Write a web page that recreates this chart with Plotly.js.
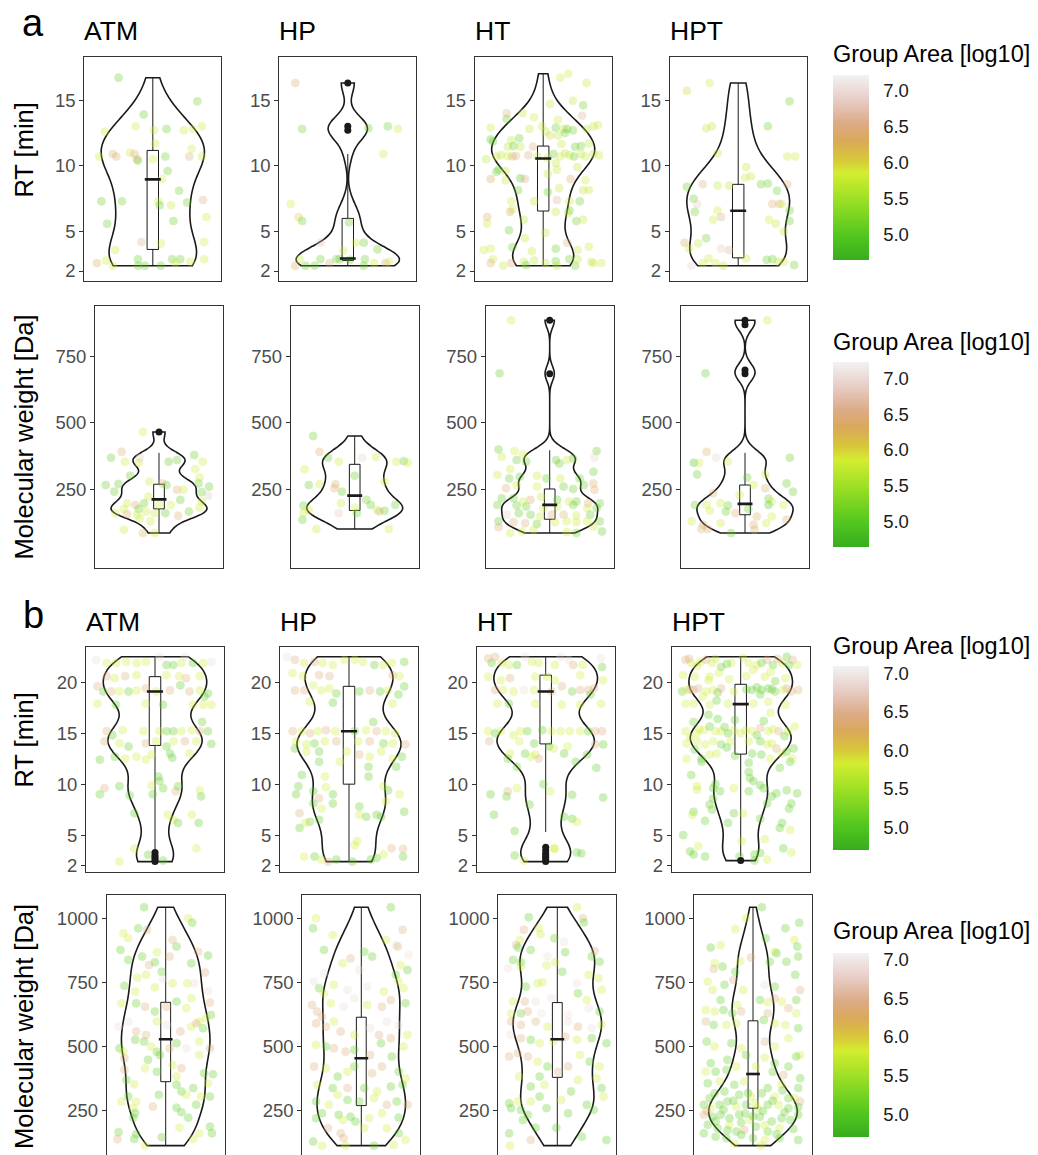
<!DOCTYPE html>
<html><head><meta charset="utf-8">
<script src="https://cdn.plot.ly/plotly-3.0.1.min.js"></script>
<style>html,body{margin:0;padding:0;background:#fff;}#chart{width:1038px;height:1155px;}</style>
</head><body><div id="chart"></div>
<script>
// ---------------- DATA ----------------
const groups = ['ATM','HP','HT','HPT'];
const rtTicks1 = [2,5,10,15];
const rtTicks2 = [2,5,10,15,20];
const mwTicks1 = [250,500,750];
const mwTicks2 = [250,500,750,1000];
const cbTickVals = [5,5.5,6,6.5,7];
const cbTickText = ['5.0','5.5','6.0','6.5','7.0'];
const cbTitle = 'Group Area [log10]';

// panel a - RT [min]
const aRT_ATM_x = [-0.30,0.39,-0.08,-0.42,-0.15,0.01,0.12,0.27,0.35,0.43,0.02,0.34,-0.47,-0.35,-0.32,-0.20,-0.16,-0.14,-0.13,0.00,0.11,0.32,0.43,0.08,0.13,0.23,-0.45,-0.27,0.05,0.06,0.16,0.30,0.44,0.47,-0.40,0.18,-0.10,0.07,0.45,-0.33,-0.49,-0.41,-0.35,-0.13,-0.13,-0.07,0.07,0.17,0.24,0.20,0.33,0.45];
const aRT_ATM_y = [16.7,14.9,13.9,12.6,13.0,12.7,12.8,12.7,12.8,13.0,11.7,11.3,10.7,10.9,10.7,11.0,10.9,10.5,10.4,10.5,10.7,10.7,10.7,9.0,9.6,8.1,7.3,7.3,7.3,7.0,7.0,7.2,7.4,6.1,5.6,5.8,4.2,4.1,4.2,3.6,2.6,2.8,2.4,2.9,2.4,2.4,2.4,2.9,2.9,2.6,2.7,2.9];
const aRT_ATM_c = [5.1,5.1,5.1,5.8,5.8,5.8,5.1,5.8,5.8,5.8,5.8,5.8,5.8,6.4,6.4,5.8,6.4,6.4,5.1,5.8,5.1,6.5,5.8,5.8,5.1,5.1,5.1,5.1,5.8,5.1,5.8,5.1,6.5,5.8,5.1,5.1,6.6,5.8,5.8,5.8,6.3,5.8,5.8,5.1,5.1,5.1,5.1,5.1,5.1,5.8,5.8,5.8];
const aRT_ATM_out = [];
const aRT_HP_x = [-0.46,-0.40,0.18,0.35,0.44,0.31,-0.50,-0.43,-0.40,0.01,-0.24,-0.04,0.07,0.14,0.26,-0.42,-0.24,-0.16,-0.10,-0.07,0.02,0.15,-0.46,-0.37,-0.29,0.14,0.23,0.33,0.36];
const aRT_HP_y = [16.3,12.8,12.85,13.0,12.8,10.9,7.1,6.1,5.8,5.7,4.15,3.55,4.15,4.15,3.64,2.9,2.9,2.6,2.9,2.9,2.85,2.9,2.4,2.4,2.4,2.4,2.6,2.6,2.7];
const aRT_HP_c = [6.4,5.1,5.1,5.1,5.8,5.8,5.8,6.0,5.1,5.1,6.7,5.8,5.8,5.1,5.1,5.8,5.1,6.4,5.1,5.1,5.1,5.1,6.3,5.1,5.1,5.1,5.8,6.4,5.8];
const aRT_HP_out = [16.3,13.0,12.7];
const aRT_HT_x = [0.15,0.22,0.38,0.06,0.26,0.35,-0.32,-0.18,-0.08,0.34,-0.32,0.13,-0.46,-0.12,-0.01,0.02,0.11,0.18,0.21,0.26,0.38,0.48,0.44,0.06,0.13,0.19,-0.46,-0.44,-0.28,-0.21,-0.31,-0.26,-0.20,-0.09,0.16,0.28,0.40,0.33,-0.50,-0.41,-0.37,-0.31,-0.27,-0.24,-0.13,-0.05,0.04,0.09,0.11,0.15,0.19,0.23,0.27,0.33,0.37,0.49,0.44,-0.39,-0.33,-0.41,-0.20,-0.16,-0.46,-0.33,0.04,0.12,0.24,0.30,0.37,0.35,0.40,-0.22,0.04,0.14,-0.08,0.12,-0.28,-0.27,0.23,0.32,-0.29,0.11,0.23,0.22,-0.49,-0.49,-0.17,0.29,0.35,-0.30,0.02,-0.16,0.21,-0.52,-0.46,-0.27,-0.10,0.11,0.30,0.40,-0.44,-0.46,-0.35,-0.28,-0.17,-0.15,-0.08,0.02,0.11,0.12,0.23,0.28,0.30,0.42,0.51,0.44];
const aRT_HT_y = [16.7,17.0,16.3,14.7,14.95,14.6,14.0,14.0,13.7,13.8,13.55,13.5,12.9,12.8,13.0,12.6,12.9,12.8,12.8,12.7,12.8,13.1,13.0,12.3,12.3,12.5,12.0,11.85,11.96,12.1,11.45,11.5,11.45,11.45,11.65,11.45,11.7,11.5,10.5,10.7,10.8,10.75,10.7,10.75,10.8,10.7,10.6,10.9,10.2,10.7,10.95,10.8,10.7,10.9,10.7,10.8,10.9,9.7,9.6,9.55,9.05,9.0,9.0,8.9,9.4,9.7,9.0,9.9,8.9,8.15,8.15,8.15,8.0,8.3,7.3,7.4,7.3,6.7,7.3,7.3,6.5,6.5,6.6,6.4,6.1,5.6,5.9,5.8,5.9,5.1,4.9,4.5,4.15,3.6,3.7,3.8,3.5,3.7,3.6,3.85,2.9,2.6,2.4,2.6,2.7,2.45,2.8,2.6,2.75,2.4,2.9,2.4,2.9,2.7,2.6,2.6];
const aRT_HT_c = [5.8,5.8,5.7,5.7,5.7,5.1,6.5,5.7,5.8,6.6,5.1,5.8,5.8,5.7,5.8,5.7,5.1,5.7,5.1,5.1,5.7,5.8,5.7,6.0,5.7,5.1,5.0,5.0,5.7,5.1,5.7,5.1,5.7,6.5,5.7,5.1,5.7,5.1,5.7,5.8,5.7,5.8,6.4,6.4,6.5,5.7,5.7,5.1,5.7,5.8,5.7,5.7,5.1,5.7,5.8,5.8,5.7,5.1,5.7,5.1,4.9,6.4,6.3,5.7,5.7,5.7,6.4,5.7,5.8,5.7,5.7,5.1,5.1,5.7,5.7,6.6,5.8,5.8,5.8,5.1,6.3,5.7,5.1,5.7,6.4,5.8,5.7,5.1,5.7,5.1,5.7,5.7,6.5,5.8,5.8,5.1,5.7,5.1,5.7,5.8,5.8,6.4,5.7,6.4,5.7,5.1,5.7,5.7,5.1,5.7,5.1,5.1,5.7,5.8,5.8,5.7];
const aRT_HT_out = [];
const aRT_HPT_x = [-0.45,-0.25,0.45,-0.28,-0.23,0.26,-0.18,0.43,0.50,0.07,0.11,0.06,-0.45,-0.31,-0.18,-0.08,0.20,0.26,0.43,0.34,-0.39,-0.36,-0.38,0.30,0.36,0.38,0.45,-0.18,-0.15,-0.22,0.27,0.45,0.33,0.40,-0.28,-0.47,-0.35,-0.43,-0.15,-0.08,-0.26,-0.31,-0.20,0.07,0.25,0.30,0.35,0.40,0.49,-0.41,-0.13];
const aRT_HPT_y = [15.7,16.3,14.9,12.85,13.0,13.0,10.95,10.7,10.7,9.9,9.2,9.1,8.4,8.6,8.5,8.5,8.6,8.65,8.6,8.1,7.5,7.1,6.5,7.1,7.1,7.1,6.6,6.6,6.1,5.9,5.9,5.8,5.6,5.0,4.5,4.15,4.1,3.7,3.7,3.6,2.95,2.6,2.6,2.95,2.85,2.9,2.7,2.7,2.45,2.4,2.4];
const aRT_HPT_c = [6.0,5.8,5.1,5.7,5.7,5.1,5.7,5.8,5.8,5.7,5.7,5.8,5.1,6.5,5.7,5.7,5.1,5.1,6.5,5.1,5.1,6.8,5.1,6.4,6.4,5.8,5.1,5.8,6.5,5.8,5.8,5.1,5.7,5.7,5.1,6.3,5.7,5.8,6.8,6.6,5.8,5.8,5.8,5.8,5.1,5.1,5.7,5.8,5.1,6.9,5.7];
const aRT_HPT_out = [];
const aRT_q1  = [3.64,2.8,6.56,3.0];
const aRT_med = [8.97,2.95,10.55,6.58];
const aRT_q3  = [11.17,6.0,11.5,8.59];
const aRT_lo  = [2.4,2.4,2.4,2.4];
const aRT_hi  = [16.7,10.9,17.0,16.3];

// panel a - Molecular weight [Da]
const aMW_ATM_x = [-0.15,-0.35,-0.45,-0.32,-0.19,-0.18,0.09,0.17,0.33,0.41,-0.27,0.34,0.38,-0.50,-0.38,-0.42,-0.09,0.03,0.17,0.23,0.37,0.47,0.40,0.46,-0.10,0.20,0.07,-0.30,-0.22,-0.19,-0.14,-0.33,-0.41,-0.30,-0.21,-0.12,-0.04,0.00,0.06,0.11,0.18,0.28,0.38,0.40,-0.18,-0.08,-0.33,-0.15,-0.04];
const aMW_ATM_y = [466,391,369,354,350,369,354,360,379,354,301,326,294,266,270,241,279,272,248,248,272,260,239,226,222,210,266,197,191,176,197,176,160,156,154,166,160,191,160,191,150,166,181,204,141,129,97,85,85];
const aMW_ATM_c = [5.8,6.4,5.1,5.8,5.8,6.8,5.1,5.1,5.1,5.8,5.1,5.8,5.8,5.1,5.1,5.1,5.8,6.4,6.4,5.8,5.1,5.1,5.1,6.8,5.8,5.1,5.1,5.8,6.4,5.1,5.1,5.8,5.8,6.4,5.8,5.8,5.8,5.8,5.1,5.8,6.4,5.1,5.8,5.8,5.8,5.8,5.8,6.2,5.8];
const aMW_ATM_out = [466];
const aMW_HP_x = [-0.39,-0.33,-0.47,-0.25,-0.15,0.07,0.20,0.39,0.46,0.50,-0.43,-0.33,-0.19,-0.18,-0.12,0.00,0.28,-0.13,0.11,0.15,0.21,0.23,0.28,0.38,-0.48,-0.48,-0.43,-0.15,0.00,0.02,-0.49,-0.36,0.32];
const aMW_HP_y = [451,391,325,369,354,369,372,354,356,350,266,269,254,269,241,301,279,197,210,191,172,166,169,191,189,162,172,160,181,160,135,100,100];
const aMW_HP_c = [5.1,6.4,5.8,5.1,5.8,6.9,5.8,5.8,5.1,5.8,5.1,5.8,6.4,6.4,5.1,5.1,5.8,5.8,5.1,5.1,5.8,6.4,5.1,5.1,5.1,5.8,5.8,6.8,5.8,5.1,5.1,5.8,5.8];
const aMW_HP_out = [];
const aMW_HT_x = [-0.36,-0.47,-0.48,-0.45,-0.33,-0.25,-0.31,-0.22,0.44,0.42,0.22,0.06,0.16,0.09,-0.49,-0.37,-0.38,-0.28,-0.12,-0.03,0.10,0.28,0.41,0.42,0.41,-0.41,-0.31,-0.12,0.13,0.22,0.32,-0.45,-0.34,-0.25,-0.18,-0.08,0.07,0.18,0.25,0.36,0.47,-0.49,-0.31,-0.22,-0.06,0.07,0.22,0.35,0.44,-0.40,-0.29,-0.18,-0.09,0.02,0.13,0.25,0.38,-0.48,-0.34,-0.23,-0.12,0.05,0.16,0.25,0.35,0.47,-0.48,-0.37,-0.26,-0.15,0.16,0.25,0.41,0.49];
const aMW_HT_y = [887,687,400,372,394,381,360,354,394,369,366,360,360,347,304,326,291,297,301,291,291,291,272,248,316,254,266,260,260,251,266,216,216,204,210,222,210,204,204,197,197,191,189,185,179,185,191,179,179,154,160,154,147,154,154,151,154,129,126,122,119,126,129,126,129,129,107,85,91,97,89,85,110,91];
const aMW_HT_c = [5.8,5.1,5.1,5.8,5.8,5.8,5.1,5.1,5.1,6.9,5.1,5.1,5.8,5.1,5.8,5.8,5.1,5.1,5.8,5.1,5.8,5.1,6.4,6.4,5.1,6.4,5.8,5.8,5.1,5.1,5.1,5.1,5.1,5.8,6.4,5.8,5.1,5.8,5.1,6.4,5.1,5.1,5.1,5.1,5.8,5.8,5.1,5.8,5.1,6.9,5.1,5.1,5.8,6.4,6.4,5.8,5.1,5.1,6.4,6.4,5.1,5.8,5.8,5.8,5.8,5.1,6.4,5.8,5.8,5.8,5.8,5.1,5.8,5.1];
const aMW_HT_out = [887,685];
const aMW_HPT_x = [0.21,-0.37,-0.36,-0.27,-0.48,-0.43,-0.45,-0.16,0.42,0.19,0.02,0.08,0.19,0.39,0.45,-0.30,-0.05,0.22,0.25,-0.47,-0.36,-0.23,-0.16,0.22,0.36,-0.33,-0.18,-0.09,0.03,0.11,0.25,-0.50,-0.39,-0.23,0.08,0.20,0.39,-0.41,-0.35,-0.13,0.09];
const aMW_HPT_y = [887,687,391,369,350,350,306,354,369,306,294,266,254,272,241,235,229,214,204,191,191,197,189,191,191,169,166,160,176,147,147,129,116,122,116,122,135,100,100,85,97];
const aMW_HPT_c = [5.8,5.1,6.4,6.9,4.9,5.8,5.1,5.8,5.1,5.8,5.1,5.8,6.4,5.1,5.1,6.4,5.8,5.1,5.8,5.1,5.8,5.8,5.1,4.9,5.8,5.8,5.1,6.4,5.1,6.4,5.8,5.8,6.4,5.8,6.4,5.8,6.4,6.4,6.4,5.1,6.4];
const aMW_HPT_out = [887,870,700,685];
const aMW_q1  = [176,170,137,154];
const aMW_med = [212,226,191,195];
const aMW_q3  = [269,344,251,266];
const aMW_lo  = [85,100,85,85];
const aMW_hi  = [387,451,397,387];

// panel b - RT [min]
const bRT_ATM_x = [-0.51,-0.42,-0.34,-0.25,-0.16,-0.08,0.04,0.10,0.16,0.23,0.26,0.33,0.42,0.49,-0.42,-0.35,-0.26,-0.16,0.10,0.21,0.27,0.39,-0.50,-0.45,-0.38,-0.31,-0.23,-0.16,-0.08,0.01,0.13,0.22,0.30,0.39,0.46,-0.50,-0.34,-0.08,0.07,0.33,0.42,0.49,0.43,-0.42,-0.37,-0.28,-0.10,0.04,0.10,0.16,0.23,0.32,0.39,0.46,0.41,-0.44,-0.31,-0.23,-0.08,0.01,0.10,0.16,0.26,0.36,0.49,-0.48,-0.35,-0.26,-0.16,-0.08,-0.03,0.13,0.15,0.30,0.03,0.04,-0.03,0.07,-0.31,-0.44,-0.48,-0.22,-0.02,0.18,0.20,0.39,0.40,-0.18,0.11,0.16,0.20,0.32,0.38,-0.18,0.36,-0.06,-0.31,0.07];
const bRT_ATM_y = [22.2,21.9,21.9,22.0,21.9,22.0,22.5,21.7,21.7,21.9,22.5,21.9,21.9,22.0,20.6,20.4,20.6,20.7,20.7,20.6,20.4,20.6,19.6,19.1,19.1,19.1,19.1,19.2,19.4,19.1,19.2,19.7,19.1,19.2,18.9,17.9,17.8,17.9,17.8,17.8,17.8,17.8,18.6,15.2,14.8,15.3,15.2,15.2,15.2,15.2,15.2,15.3,15.2,15.2,16.1,14.2,14.0,13.7,14.0,14.2,13.7,14.2,14.2,14.2,13.95,12.4,12.7,12.5,12.7,12.4,12.9,13.0,12.6,13.0,10.75,10.3,9.9,9.6,9.8,9.6,9.0,8.9,9.0,9.3,9.8,9.4,8.8,7.15,7.0,6.5,6.2,7.0,6.2,3.66,3.7,3.07,2.4,2.5];
const bRT_ATM_c = [6.9,5.8,5.8,5.8,5.8,5.8,6.9,5.1,5.1,5.8,6.9,5.1,5.8,6.9,6.4,5.8,6.4,5.8,5.8,5.8,6.4,5.8,6.4,5.1,6.4,5.8,5.1,5.8,6.4,5.8,6.4,5.1,6.4,5.8,5.1,5.8,5.1,5.8,5.1,5.8,5.8,5.8,5.1,6.4,5.1,5.8,5.8,5.8,5.1,5.1,5.8,5.8,6.4,5.1,5.1,6.4,5.8,5.1,6.4,5.8,5.1,5.8,6.4,5.8,5.1,5.1,5.1,5.8,5.8,5.8,5.8,5.1,5.1,5.8,5.1,5.1,5.8,5.1,5.1,6.4,5.1,5.1,5.1,6.4,5.1,5.8,5.1,5.1,5.8,5.8,5.1,5.8,5.1,5.8,5.8,5.1,5.8,5.1];
const bRT_ATM_out = [3.3,3.0,2.8,2.6,2.4];
const bRT_HP_x = [-0.54,-0.47,-0.39,-0.30,-0.23,-0.14,-0.04,0.05,0.12,0.22,0.30,0.37,0.48,-0.49,-0.40,-0.26,-0.17,0.38,0.44,-0.47,-0.39,-0.31,-0.24,-0.17,-0.11,0.09,0.18,0.27,0.34,0.43,0.48,-0.34,-0.14,0.38,-0.49,-0.41,-0.34,-0.27,-0.20,-0.12,0.05,0.15,0.24,0.32,0.40,0.21,-0.46,-0.37,-0.30,-0.21,-0.11,0.08,0.18,0.30,0.38,0.49,-0.47,-0.37,-0.26,-0.02,0.09,0.18,0.28,0.38,0.46,0.41,0.17,-0.26,-0.08,-0.41,-0.21,-0.44,0.17,-0.20,0.30,-0.46,-0.31,-0.26,-0.14,0.34,0.44,-0.31,-0.24,-0.14,0.09,0.32,0.48,-0.43,0.09,0.15,0.24,0.28,-0.26,-0.34,-0.43,-0.38,0.07,0.05,-0.39,-0.30,-0.24,-0.18,-0.11,0.03,0.19,0.24,0.30,0.37,0.47,0.47];
const bRT_HP_y = [22.5,22.2,21.9,22.0,21.9,21.7,22.2,22.2,22.0,21.7,21.7,21.9,22.0,20.9,20.6,20.7,20.6,20.7,20.6,19.2,19.2,19.7,19.2,19.4,18.9,19.1,19.2,19.1,19.2,18.8,19.6,18.1,18.0,17.9,15.2,15.2,15.0,15.2,15.3,15.2,15.2,15.3,15.2,15.2,15.0,16.1,14.2,13.9,14.0,14.2,14.2,14.2,14.2,14.0,14.0,13.9,13.5,13.2,13.2,13.2,12.9,12.7,13.2,12.5,12.7,11.7,11.7,12.2,12.2,10.9,10.75,9.8,10.75,9.7,9.8,9.0,9.3,8.6,9.0,9.4,9.0,8.1,7.6,8.1,7.8,8.3,7.3,7.15,7.0,6.8,7.0,6.8,6.5,6.3,5.7,6.2,4.4,4.0,2.9,2.9,2.6,2.4,2.6,2.4,2.6,2.75,3.1,3.7,3.65,2.9];
const bRT_HP_c = [6.9,6.4,5.8,6.4,5.8,5.8,5.8,5.8,5.8,5.1,5.8,5.8,5.1,5.8,5.8,6.4,6.4,6.4,5.8,6.4,6.4,5.8,5.8,5.8,5.1,5.1,6.4,5.1,5.8,5.1,5.1,5.8,5.1,5.8,6.4,5.8,6.4,5.8,6.4,5.8,5.1,5.8,6.4,5.8,5.8,5.1,5.8,5.8,5.1,5.8,6.4,5.8,6.4,5.1,5.8,6.4,5.1,5.8,5.1,5.8,6.4,5.8,5.8,5.8,5.1,5.1,5.1,5.1,5.8,5.1,5.8,5.1,5.1,5.8,5.8,5.1,5.1,6.4,5.1,5.1,5.8,5.1,5.8,5.1,5.1,5.8,5.1,6.4,5.8,5.1,5.1,5.1,5.1,5.1,5.1,5.8,5.8,5.8,5.8,5.1,5.8,6.4,5.1,5.1,5.1,5.1,5.8,6.4,6.4,5.1];
const bRT_HP_out = [];
const bRT_HT_x = [-0.50,-0.44,-0.47,-0.38,-0.32,-0.25,-0.18,-0.12,-0.06,0.08,0.13,0.20,0.24,0.32,0.48,0.49,-0.50,-0.39,-0.31,-0.09,0.01,0.08,0.30,0.50,-0.44,-0.37,-0.28,-0.19,-0.10,0.05,0.14,0.23,0.30,0.37,0.42,0.39,-0.42,-0.32,-0.09,0.14,0.30,0.48,-0.50,-0.44,-0.39,-0.28,-0.22,-0.16,-0.03,0.05,0.13,0.21,0.30,0.37,0.43,0.49,-0.49,-0.23,-0.10,0.03,0.07,0.19,0.43,0.50,-0.31,-0.18,-0.13,-0.09,-0.06,0.16,0.26,0.36,-0.33,-0.25,0.44,-0.02,0.04,-0.33,-0.25,-0.48,-0.34,0.23,0.50,-0.14,-0.45,0.16,0.23,0.27,-0.27,0.07,0.08,-0.27,-0.19,0.27,0.31];
const bRT_HT_y = [22.35,22.5,21.9,21.9,21.7,21.7,22.5,22.0,21.9,21.7,22.5,22.2,21.7,21.7,22.35,21.5,20.55,20.2,20.4,20.55,20.55,20.2,20.7,20.2,19.25,19.25,19.1,19.25,19.25,19.1,19.6,19.1,19.25,19.25,19.4,18.8,17.9,17.9,17.9,17.8,17.8,17.9,15.2,15.0,15.2,14.8,15.2,15.2,15.3,15.2,15.2,15.2,15.2,15.2,15.2,15.2,14.2,14.2,14.0,13.7,13.5,13.7,13.9,13.9,13.0,13.0,12.7,12.9,12.5,13.0,12.2,12.9,12.5,11.7,11.6,10.0,9.3,9.3,9.6,9.0,8.8,8.95,8.7,8.0,7.0,6.8,6.6,6.3,5.4,3.7,3.65,3.0,2.5,3.3,3.2];
const bRT_HT_c = [6.4,6.4,5.1,5.8,5.8,5.1,6.9,5.8,5.8,5.8,6.9,6.9,6.4,5.8,6.9,5.1,5.8,5.8,6.4,5.8,5.8,5.8,5.8,5.8,6.4,5.8,5.8,6.9,5.8,6.4,6.4,5.1,6.4,6.4,6.4,5.1,5.8,5.1,5.8,5.8,5.8,5.8,5.8,5.1,5.8,5.8,5.8,5.1,5.1,5.8,5.8,5.8,5.8,5.1,6.4,6.4,6.4,5.8,5.1,5.1,5.8,5.8,6.4,5.1,5.8,5.1,5.8,5.8,6.4,5.1,5.1,5.1,5.1,5.1,5.1,5.1,5.8,6.4,5.8,5.1,5.1,5.1,5.1,5.1,5.1,5.1,5.1,5.8,5.1,5.8,5.8,5.1,5.8,5.1,5.1];
const bRT_HT_out = [2.4,2.6,2.8,3.0,3.2,3.5,3.8];
const bRT_HPT_x = [-0.48,-0.43,-0.35,-0.30,-0.25,-0.17,-0.08,0.07,0.14,0.23,0.28,0.36,0.40,0.45,0.49,-0.50,-0.40,-0.27,-0.19,0.11,0.21,0.39,0.26,-0.51,-0.47,-0.41,-0.37,-0.30,-0.24,-0.17,-0.06,0.10,0.18,0.24,0.30,0.37,0.44,0.50,0.17,-0.48,-0.41,-0.27,-0.21,-0.11,0.11,0.24,0.39,-0.28,-0.05,0.26,-0.48,-0.41,-0.38,-0.32,-0.27,-0.22,-0.17,-0.11,-0.06,0.04,0.10,0.17,0.24,0.33,0.41,0.47,-0.47,-0.38,-0.31,-0.24,-0.17,-0.09,0.07,0.17,0.23,0.31,0.46,-0.40,-0.47,-0.34,-0.27,-0.21,0.10,0.18,0.26,0.36,0.45,-0.34,0.07,0.34,0.43,-0.43,0.07,0.08,0.11,0.17,-0.22,-0.38,-0.38,-0.24,-0.18,-0.06,0.07,0.20,0.31,0.40,0.49,-0.24,-0.27,-0.25,0.23,0.27,0.44,0.42,-0.41,-0.42,-0.31,-0.06,0.02,0.17,-0.11,0.36,0.34,0.43,-0.50,0.01,0.21,-0.37,-0.44,-0.41,-0.31,-0.01,0.12,0.17,0.12,0.23,0.37,0.44,-0.45,-0.38,-0.22,-0.12,0.02,0.18,0.32,0.42,-0.28,0.05,0.30,-0.10,-0.44,-0.20,0.05,0.14,0.27,0.40,-0.33,-0.36,-0.14,0.00,0.14,0.28,0.38,-0.44,0.20,-0.20,-0.12,0.27,0.40,-0.05];
const bRT_HPT_y = [22.2,21.9,22.0,22.2,21.9,21.5,21.9,21.9,21.7,22.2,21.7,21.9,22.5,22.2,21.7,20.7,20.55,20.55,20.9,21.2,20.55,20.4,21.0,19.1,19.25,19.25,19.4,19.1,19.25,19.4,19.1,19.25,19.25,19.4,19.1,19.25,19.1,19.25,18.8,17.9,17.9,17.8,18.2,17.9,17.9,18.1,17.8,16.8,16.3,17.0,15.2,16.1,15.0,15.3,15.65,15.2,15.2,15.0,15.3,15.3,15.2,15.5,15.2,15.2,15.2,15.65,14.0,14.2,13.9,14.2,13.9,14.2,14.2,14.2,13.9,13.5,13.5,13.4,12.5,12.5,12.9,13.0,13.0,12.9,12.5,13.0,12.5,12.2,12.1,11.6,12.2,10.9,11.2,10.6,10.3,9.9,10.0,9.8,9.45,9.6,9.3,9.6,9.3,9.6,9.1,9.4,9.1,8.6,8.0,7.5,8.1,8.8,8.1,7.6,7.3,7.0,6.4,7.15,7.15,6.6,6.2,6.2,5.7,5.5,5.0,4.4,4.6,3.9,3.4,3.1,2.9,2.9,3.1,3.25,2.5,2.6,3.7,3.3,22.3,21.6,22.3,21.8,22.4,21.9,22.3,21.7,20.2,20.6,20.1,20.3,19.3,19.0,19.3,19.5,19.3,19.4,18.6,15.4,15.6,15.0,14.8,15.4,14.7,14.6,16.2,16.4,13.6,14.0,13.2,12.8];
const bRT_HPT_c = [6.4,5.8,5.8,6.4,5.8,5.1,5.8,5.8,5.8,6.4,5.1,5.8,5.1,6.4,5.8,5.8,5.8,5.8,5.8,5.8,5.8,5.8,5.8,5.1,5.8,6.4,6.4,5.8,5.8,6.4,5.8,5.1,5.1,5.1,5.1,5.8,6.4,6.4,5.1,5.8,5.8,5.8,5.1,5.8,5.8,5.8,5.8,5.1,5.1,5.8,5.8,5.1,5.8,5.8,5.1,5.8,5.8,5.1,5.8,5.8,5.8,6.4,5.8,6.4,5.8,5.8,5.8,5.8,5.8,5.8,5.1,5.8,5.8,5.1,5.8,6.4,5.1,5.1,5.8,5.1,5.8,5.8,5.1,5.1,5.8,5.8,5.8,5.1,5.1,5.1,5.1,5.1,5.1,5.1,5.1,5.1,5.1,5.8,5.8,5.1,5.1,5.8,5.1,5.1,5.1,5.1,5.1,5.1,5.1,5.1,5.1,5.1,5.1,5.1,5.1,5.8,5.1,5.1,5.8,5.1,5.1,5.1,5.1,5.8,5.1,5.8,5.8,5.8,5.1,5.1,5.1,5.1,5.1,5.1,5.1,5.8,5.1,5.8,6.4,5.8,5.8,5.1,5.8,5.1,6.4,5.1,5.8,5.8,5.1,5.8,6.4,5.1,5.1,5.1,5.1,6.4,5.8,5.8,5.1,5.8,5.1,5.8,5.1,5.8,5.1,5.1,5.1,5.8,5.1,5.1];
const bRT_HPT_out = [2.5];
const bRT_q1  = [13.8,10.0,13.95,12.95];
const bRT_med = [19.1,15.2,19.1,17.85];
const bRT_q3  = [20.55,19.6,20.7,19.8];
const bRT_lo  = [3.6,2.4,5.3,2.9];
const bRT_hi  = [22.45,22.45,22.45,22.45];

// panel b - Molecular weight [Da]
const bMW_ATM_x = [-0.22,0.23,0.27,-0.43,-0.38,-0.28,-0.19,-0.46,0.07,0.11,-0.38,-0.24,-0.09,0.04,0.26,0.33,0.43,-0.17,-0.11,-0.04,-0.29,-0.20,-0.03,0.07,0.22,0.40,-0.42,-0.31,-0.11,0.29,0.43,-0.45,-0.30,-0.21,-0.11,0.01,0.11,0.21,0.26,0.45,0.34,0.41,0.46,-0.48,-0.38,-0.30,-0.20,-0.09,0.01,0.15,0.26,0.31,0.38,-0.47,-0.43,-0.31,-0.22,-0.15,-0.09,0.04,0.11,0.21,0.34,0.45,-0.42,-0.18,-0.06,0.07,0.16,0.34,-0.42,-0.21,-0.09,0.11,0.39,0.48,-0.40,-0.32,0.11,0.16,0.28,0.43,-0.38,-0.45,-0.30,-0.07,0.21,0.36,0.45,0.31,0.11,-0.13,-0.33,-0.31,0.16,0.23,-0.33,-0.48,-0.49,-0.30,-0.32,-0.04,0.14,0.28,0.34,0.45,0.47,-0.21];
const bMW_ATM_y = [1043,1000,983,942,922,961,955,877,916,890,838,851,868,851,825,870,855,818,829,792,769,780,764,747,747,789,737,715,731,747,717,669,669,656,637,656,676,650,689,672,598,611,624,578,598,559,546,598,585,559,578,591,572,494,481,527,520,501,481,494,514,494,520,494,455,449,468,429,416,468,410,416,403,384,397,393,371,354,352,326,339,358,306,287,287,313,313,306,306,274,263,267,261,241,245,224,224,167,140,160,141,148,185,141,163,189,163,115];
const bMW_ATM_c = [5.1,5.8,5.1,5.8,5.8,5.1,6.4,5.1,6.4,5.1,5.1,5.1,5.8,6.4,5.1,6.4,5.1,6.4,5.1,5.1,5.8,5.8,6.9,5.8,5.8,6.4,5.1,5.8,5.8,6.9,6.9,5.8,5.1,6.4,5.1,6.4,5.1,5.8,5.8,6.4,5.8,5.8,5.1,6.9,6.9,6.4,6.4,5.8,6.9,6.4,5.8,6.4,5.1,5.1,5.8,5.1,5.1,5.8,5.1,6.4,5.1,6.9,5.8,6.4,6.4,5.1,5.1,5.8,6.4,5.8,6.4,5.8,5.1,5.8,5.1,5.1,5.1,5.8,5.1,5.1,5.1,5.8,5.1,5.8,5.8,5.1,5.8,5.8,5.1,5.1,5.1,6.4,5.8,5.1,5.1,5.1,5.1,5.1,6.4,5.1,5.1,5.1,5.8,5.8,5.8,5.1,5.1,5.8];
const bMW_ATM_out = [];
const bMW_HP_x = [0.30,-0.46,-0.49,-0.29,0.42,0.25,0.35,0.37,-0.38,0.03,0.11,-0.11,-0.19,0.48,0.40,0.47,-0.38,-0.02,0.35,0.38,-0.48,-0.43,-0.38,-0.28,-0.14,0.06,0.23,0.43,0.45,-0.50,-0.45,-0.40,-0.31,-0.18,-0.07,0.06,0.21,0.30,0.26,0.38,-0.46,-0.36,-0.28,-0.21,-0.07,0.09,0.18,0.30,0.47,-0.46,-0.36,-0.28,-0.16,-0.07,0.09,0.20,0.31,0.43,-0.48,-0.36,-0.24,-0.14,-0.07,0.11,0.21,0.38,0.45,-0.45,-0.29,-0.14,0.03,0.16,0.30,0.42,-0.46,-0.33,-0.24,-0.14,-0.02,0.13,0.26,0.36,0.47,-0.46,-0.40,-0.23,-0.19,-0.11,-0.06,0.08,0.21,0.38,-0.34,-0.21,-0.18,0.03,0.26,0.38,0.45,-0.49,-0.40,-0.16,0.13,0.33];
const bMW_HP_y = [1043,1000,961,935,955,916,896,890,877,870,851,844,825,857,818,799,786,799,780,754,754,728,708,741,721,734,715,728,669,663,637,617,669,656,689,663,656,682,598,585,591,578,598,559,546,572,546,533,546,507,501,494,481,488,468,514,462,501,423,416,384,403,423,397,423,403,377,352,339,339,339,326,345,352,287,274,313,293,287,300,274,287,274,222,241,235,215,228,209,222,241,224,183,163,144,183,183,163,137,131,115,115,115,118];
const bMW_HP_c = [5.1,5.8,5.1,5.8,6.4,5.8,6.9,6.4,5.1,5.1,5.1,6.4,5.8,6.9,5.8,5.1,6.9,6.9,5.1,5.8,6.9,5.1,5.8,5.8,6.9,6.9,5.8,5.8,5.1,6.4,6.4,6.4,5.8,6.9,6.9,5.8,6.4,6.4,6.9,6.9,6.4,6.4,5.8,6.4,5.8,6.9,6.4,6.4,5.8,5.8,5.1,6.4,6.4,5.1,6.4,5.1,5.1,5.8,6.4,5.8,5.1,5.8,5.1,6.4,6.4,5.1,5.8,5.8,5.1,6.4,5.1,5.8,5.1,5.1,5.1,5.8,5.8,5.1,5.1,5.8,6.4,5.1,6.4,5.1,5.1,5.1,5.8,5.1,5.1,5.8,5.8,5.1,6.4,6.4,6.4,5.8,5.8,5.1,5.8,5.1,5.8,5.8,5.1,5.8];
const bMW_HP_out = [];
const bMW_HT_x = [0.20,-0.29,0.26,0.27,-0.34,-0.38,-0.19,-0.17,-0.03,0.07,-0.42,-0.40,-0.45,-0.37,-0.27,-0.10,-0.02,0.08,0.35,0.38,0.43,-0.50,-0.37,-0.11,0.05,0.32,0.42,-0.32,-0.20,-0.15,0.20,0.45,-0.45,-0.33,-0.22,-0.06,0.21,0.30,-0.47,-0.37,-0.30,-0.16,0.11,0.32,0.43,-0.47,-0.37,-0.22,-0.10,0.11,0.21,0.35,0.45,-0.48,-0.37,-0.27,-0.18,-0.04,0.08,0.20,0.35,0.50,-0.49,-0.40,-0.30,-0.20,-0.10,0.11,0.23,0.33,0.43,-0.39,-0.18,0.01,0.21,0.40,-0.27,-0.13,0.14,0.45,0.47,-0.49,-0.40,-0.27,-0.18,0.04,0.30,0.37,-0.37,-0.47,-0.30,-0.11,0.11,-0.35,-0.22,-0.49,-0.01,0.25,-0.27,0.50,-0.48];
const bMW_HT_y = [1043,1004,1000,984,955,916,961,938,922,909,896,886,838,829,877,851,829,868,851,873,831,805,812,816,792,780,767,734,747,751,747,721,676,676,676,689,708,682,630,630,637,630,624,650,637,598,585,598,578,598,578,572,585,546,533,527,514,520,539,527,533,514,462,475,462,442,423,423,468,442,423,384,384,403,371,377,345,352,326,339,306,280,287,287,306,293,274,254,254,261,235,261,241,215,185,163,185,150,137,137,115];
const bMW_HT_c = [5.8,5.1,6.4,5.1,6.4,5.8,5.8,5.8,5.1,6.9,6.4,5.1,5.1,5.1,5.1,6.9,5.8,5.1,5.1,6.4,5.1,6.9,5.8,5.8,5.1,5.8,5.8,5.1,5.8,5.8,6.9,5.8,5.8,6.4,6.9,6.9,5.1,5.8,5.8,5.1,6.4,6.9,6.9,6.9,5.1,6.4,6.4,6.4,5.8,6.9,6.4,6.9,5.8,6.9,6.4,5.1,5.8,5.8,6.4,5.8,5.1,5.1,6.4,6.4,6.4,5.8,5.1,6.4,5.8,5.1,5.8,5.8,5.1,6.4,5.8,5.8,5.1,5.8,5.1,5.1,5.8,5.1,5.8,5.8,5.1,5.8,5.1,5.1,5.1,5.1,5.1,5.1,5.1,5.1,5.1,5.1,5.1,5.1,6.4,5.1,5.8];
const bMW_HT_out = [];
const bMW_HPT_x = [0.09,-0.07,0.33,0.47,-0.18,0.42,0.45,-0.43,-0.33,0.13,0.22,0.24,0.34,0.46,0.17,-0.39,-0.40,-0.31,-0.13,-0.02,0.43,-0.46,-0.41,-0.29,-0.18,-0.20,-0.10,0.12,0.22,0.48,0.07,0.15,0.22,0.29,0.44,-0.33,-0.16,-0.48,-0.39,-0.30,-0.21,-0.12,0.15,0.36,0.44,-0.48,-0.40,-0.27,-0.17,0.11,0.22,0.33,0.46,-0.47,-0.39,-0.22,-0.12,0.12,0.22,0.36,0.48,-0.43,-0.26,-0.07,0.12,0.22,0.36,0.44,-0.48,-0.38,-0.27,-0.17,0.03,0.20,0.31,0.48,-0.46,-0.34,-0.19,-0.09,0.15,0.29,0.46,-0.39,-0.29,-0.14,-0.02,0.09,0.22,0.36,0.48,-0.50,-0.43,-0.34,-0.26,-0.17,-0.07,0.05,0.15,0.26,0.36,-0.50,-0.41,-0.33,-0.24,-0.14,-0.03,0.07,0.19,0.29,0.46,-0.46,-0.36,-0.24,-0.17,-0.09,0.03,0.15,0.27,0.41,-0.50,-0.38,-0.27,-0.12,0.00,0.12,0.27,0.46,-0.19,0.08,-0.44,-0.30,-0.20,-0.08,0.02,0.10,0.20,0.32,0.42,-0.38,-0.26,-0.12,0.00,0.12,0.24,0.38,-0.47,0.46,-0.05,0.30];
const bMW_HPT_y = [1043,1000,961,983,958,916,890,886,896,922,870,864,831,851,831,825,803,812,833,847,780,754,721,741,792,760,721,741,734,721,682,673,689,676,682,682,663,643,637,643,630,637,630,650,630,598,585,585,591,604,591,585,572,520,501,514,494,520,501,533,468,436,449,468,458,436,423,462,403,403,410,423,423,403,390,377,358,365,352,365,339,354,339,319,326,313,306,319,306,300,287,274,261,274,287,267,274,261,274,274,261,235,228,235,222,235,215,228,209,222,235,196,183,196,170,176,189,170,183,180,163,150,144,157,144,137,144,137,124,115,300,255,290,240,280,250,290,245,300,210,175,205,230,195,160,215,250,265,320,330];
const bMW_HPT_c = [5.1,5.8,5.1,5.1,5.8,5.8,5.1,5.1,5.8,5.1,5.8,5.1,5.1,5.1,5.1,5.8,6.4,5.1,5.8,6.4,5.1,5.8,5.8,5.1,5.1,6.4,5.8,6.9,5.1,6.4,5.1,5.8,6.4,5.8,5.1,5.1,5.8,5.8,5.8,5.1,5.1,6.4,6.4,6.4,5.8,6.4,5.1,5.8,5.8,5.1,5.8,5.8,5.1,5.1,5.8,5.1,5.8,6.4,5.8,5.8,5.8,5.1,5.1,5.1,5.8,5.1,5.1,5.1,5.8,5.1,5.1,5.8,5.8,5.1,6.4,5.1,5.1,5.8,5.1,5.8,5.1,5.8,5.1,5.1,5.1,5.1,5.8,5.1,5.8,5.1,6.4,5.1,5.8,5.1,5.1,5.8,5.1,5.8,5.1,5.8,5.1,6.4,5.1,5.1,5.1,5.1,5.8,5.1,5.1,5.1,5.1,5.1,5.1,5.8,5.1,6.4,5.1,5.1,5.8,5.1,5.1,5.1,5.1,5.1,5.1,5.8,5.1,5.1,5.8,5.8,5.1,5.1,5.1,5.1,5.8,5.1,5.1,5.1,5.8,5.1,5.1,5.1,5.1,5.8,5.1,5.1,6.4,5.1,5.1,5.1];
const bMW_HPT_out = [];
const bMW_q1  = [364,271,381,261];
const bMW_med = [529,455,529,394];
const bMW_q3  = [673,615,672,601];
const bMW_lo  = [115,115,115,115];
const bMW_hi  = [1043,1043,1043,1043];

// ---------------- BUILD ----------------
const panels = {
  aRT: {ATM:[aRT_ATM_x,aRT_ATM_y,aRT_ATM_c,aRT_ATM_out], HP:[aRT_HP_x,aRT_HP_y,aRT_HP_c,aRT_HP_out], HT:[aRT_HT_x,aRT_HT_y,aRT_HT_c,aRT_HT_out], HPT:[aRT_HPT_x,aRT_HPT_y,aRT_HPT_c,aRT_HPT_out]},
  aMW: {ATM:[aMW_ATM_x,aMW_ATM_y,aMW_ATM_c,aMW_ATM_out], HP:[aMW_HP_x,aMW_HP_y,aMW_HP_c,aMW_HP_out], HT:[aMW_HT_x,aMW_HT_y,aMW_HT_c,aMW_HT_out], HPT:[aMW_HPT_x,aMW_HPT_y,aMW_HPT_c,aMW_HPT_out]},
  bRT: {ATM:[bRT_ATM_x,bRT_ATM_y,bRT_ATM_c,bRT_ATM_out], HP:[bRT_HP_x,bRT_HP_y,bRT_HP_c,bRT_HP_out], HT:[bRT_HT_x,bRT_HT_y,bRT_HT_c,bRT_HT_out], HPT:[bRT_HPT_x,bRT_HPT_y,bRT_HPT_c,bRT_HPT_out]},
  bMW: {ATM:[bMW_ATM_x,bMW_ATM_y,bMW_ATM_c,bMW_ATM_out], HP:[bMW_HP_x,bMW_HP_y,bMW_HP_c,bMW_HP_out], HT:[bMW_HT_x,bMW_HT_y,bMW_HT_c,bMW_HT_out], HPT:[bMW_HPT_x,bMW_HPT_y,bMW_HPT_c,bMW_HPT_out]}
};
const boxes = {
  aRT:{q1:aRT_q1,med:aRT_med,q3:aRT_q3,lo:aRT_lo,hi:aRT_hi},
  aMW:{q1:aMW_q1,med:aMW_med,q3:aMW_q3,lo:aMW_lo,hi:aMW_hi},
  bRT:{q1:bRT_q1,med:bRT_med,q3:bRT_q3,lo:bRT_lo,hi:bRT_hi},
  bMW:{q1:bMW_q1,med:bMW_med,q3:bMW_q3,lo:bMW_lo,hi:bMW_hi}
};

const W = 1038, H = 1155;
const FONT = '"Liberation Sans", Arial, Helvetica, sans-serif';
const cscale = [[0,'#36ad1e'],[0.14,'#55c81e'],[0.333,'#9fe026'],[0.47,'#d3ed30'],[0.55,'#d8c43c'],[0.645,'#daa95a'],[0.74,'#dcab86'],[0.86,'#e7cbc3'],[1,'#f2f2f2']];

const rowsCfg = [
  {key:'aRT', top:57.3, bot:281, lefts:[84.3,279.3,474.7,669.7], w:137, range:[1.24,18.25], ticks:rtTicks1, cbTop:75, cbBot:260, cmin:4.64, cmax:7.22, bw:[1.8,0.9,1.2,1.5], ytitle:'RT [min]', ytY:150, cbtY:54},
  {key:'aMW', top:305.7, bot:568.3, lefts:[95,290.7,485.7,681], w:128, range:[-48,942], ticks:mwTicks1, cbTop:361.7, cbBot:546.7, cmin:4.65, cmax:7.23, bw:[28,40,28,32], ytitle:'Molecular weight [Da]', ytY:437, cbtY:341.5},
  {key:'bRT', top:646.7, bot:871.7, lefts:[86,280,476.7,671.7], w:138, range:[1.41,23.49], ticks:rtTicks2, cbTop:665.6, cbBot:849.8, cmin:4.71, cmax:7.10, bw:[1.5,1.8,1.5,1.4], ytitle:'RT [min]', ytY:740, cbtY:645.5},
  {key:'bMW', top:895, bot:1155, lefts:[106.7,302.3,498.3,694], w:118, range:[78.7,1090.7], ticks:mwTicks2, cbTop:952.4, cbBot:1136.6, cmin:4.71, cmax:7.09, bw:[68,72,66,60], ytitle:'Molecular weight [Da]', ytY:1026.5, cbtY:930.5}
];

const traces = [];
const layout = {
  width: W, height: H,
  margin: {l:0, r:0, t:0, b:0, pad:0},
  paper_bgcolor: '#ffffff', plot_bgcolor: 'rgba(0,0,0,0)',
  showlegend: false,
  font: {family: FONT, color: '#000'},
  annotations: []
};

rowsCfg.forEach((R, r) => {
  const B = boxes[R.key];
  groups.forEach((g, gi) => {
    const n = r*4 + gi + 1;
    const s = n === 1 ? '' : String(n);
    const [xs, ys, cs, outs] = panels[R.key][g];
    const left = R.lefts[gi];
    layout['xaxis'+s] = {
      domain: [left/W, (left+R.w)/W], range: [-0.6, 0.6], type: 'linear',
      showgrid: false, zeroline: false, showticklabels: false, ticks: '',
      showline: true, mirror: true, linecolor: '#333333', linewidth: 1,
      anchor: 'y'+s, fixedrange: true
    };
    layout['yaxis'+s] = {
      domain: [Math.max(0, 1 - R.bot/H), 1 - R.top/H], range: R.range, type: 'linear',
      tickvals: R.ticks, ticktext: R.ticks.map(String),
      ticks: 'outside', ticklen: 4, tickwidth: 1, tickcolor: '#333333',
      tickfont: {family: FONT, size: 18.5, color: '#4d4d4d'},
      showgrid: false, zeroline: false,
      showline: true, mirror: true, linecolor: '#333333', linewidth: 1,
      anchor: 'x'+s, fixedrange: true
    };
    const xa = 'x'+s, ya = 'y'+s;
    // violin (density outline)
    traces.push({
      type: 'violin', x0: 0, y: ys.concat(outs), xaxis: xa, yaxis: ya,
      name: g, orientation: 'v',
      line: {color: '#1a1a1a', width: 1.6}, fillcolor: 'rgba(0,0,0,0)',
      points: false, box: {visible: false}, meanline: {visible: false},
      spanmode: 'hard', scalemode: 'width', width: 0.9, bandwidth: R.bw[gi],
      hoverinfo: 'skip'
    });
    // box plot from summary statistics
    traces.push({
      type: 'box', x: [0], xaxis: xa, yaxis: ya,
      q1: [B.q1[gi]], median: [B.med[gi]], q3: [B.q3[gi]],
      lowerfence: [B.lo[gi]], upperfence: [B.hi[gi]],
      width: 0.1, whiskerwidth: 0, boxpoints: false,
      line: {color: '#1a1a1a', width: 1}, fillcolor: 'rgba(255,255,255,0)',
      hoverinfo: 'skip'
    });
    // jittered points
    const mk = {
      size: 8, color: cs, colorscale: cscale, cmin: R.cmin, cmax: R.cmax, opacity: 0.3,
      line: {width: 0.8, color: cs, colorscale: cscale, cmin: R.cmin, cmax: R.cmax},
      showscale: gi === 3
    };
    if (gi === 3) {
      mk.colorbar = {
        x: 833/W, xanchor: 'left', y: 1 - (R.cbTop + R.cbBot)/2/H, yanchor: 'middle',
        len: R.cbBot - R.cbTop, lenmode: 'pixels', thickness: 36, thicknessmode: 'pixels',
        outlinewidth: 0, xpad: 0, ypad: 0,
        tickvals: cbTickVals, ticktext: cbTickText,
        ticks: 'outside', ticklen: 11, tickcolor: 'rgba(0,0,0,0)',
        tickfont: {family: FONT, size: 18.5, color: '#1a1a1a'},
        title: {text: ''}
      };
    }
    traces.push({
      type: 'scatter', mode: 'markers', x: xs, y: ys, xaxis: xa, yaxis: ya,
      marker: mk, hoverinfo: 'skip', cliponaxis: true
    });
    // thick median bar
    const boxPx = 0.1 * R.w / 1.2;
    traces.push({
      type: 'scatter', mode: 'markers', x: [0], y: [B.med[gi]], xaxis: xa, yaxis: ya,
      marker: {symbol: 'line-ew', size: boxPx, line: {width: 2.6, color: '#1a1a1a'}},
      hoverinfo: 'skip'
    });
    // outliers
    if (outs.length) {
      traces.push({
        type: 'scatter', mode: 'markers', x: outs.map(() => 0), y: outs, xaxis: xa, yaxis: ya,
        marker: {size: 7, color: '#1a1a1a'}, hoverinfo: 'skip'
      });
    }
    // column titles
    if (r === 0 || r === 2) {
      layout.annotations.push({
        text: g, xref: 'paper', yref: 'paper', x: (left - 2)/W, y: 1 - (r === 0 ? 31.5 : 622)/H,
        xanchor: 'left', yanchor: 'middle', showarrow: false,
        font: {family: FONT, size: 26.5, color: '#000'}
      });
    }
  });
  // y axis title
  layout.annotations.push({
    text: R.ytitle, xref: 'paper', yref: 'paper', x: 23.6/W, y: 1 - R.ytY/H,
    xanchor: 'center', yanchor: 'middle', textangle: -90, showarrow: false,
    font: {family: FONT, size: 25.5, color: '#000'}
  });
  // colourbar title
  layout.annotations.push({
    text: cbTitle, xref: 'paper', yref: 'paper', x: 831/W, y: 1 - R.cbtY/H,
    xanchor: 'left', yanchor: 'middle', showarrow: false,
    font: {family: FONT, size: 23.5, color: '#000'}
  });
});

// panel letters
layout.annotations.push({text:'a', xref:'paper', yref:'paper', x:20/W, y:1-23.5/H, xanchor:'left', yanchor:'middle', showarrow:false, font:{family:FONT, size:38, color:'#000'}});
layout.annotations.push({text:'b', xref:'paper', yref:'paper', x:21/W, y:1-615/H, xanchor:'left', yanchor:'middle', showarrow:false, font:{family:FONT, size:38, color:'#000'}});

Plotly.newPlot('chart', traces, layout, {displayModeBar: false, staticPlot: true});
</script>
</body></html>
